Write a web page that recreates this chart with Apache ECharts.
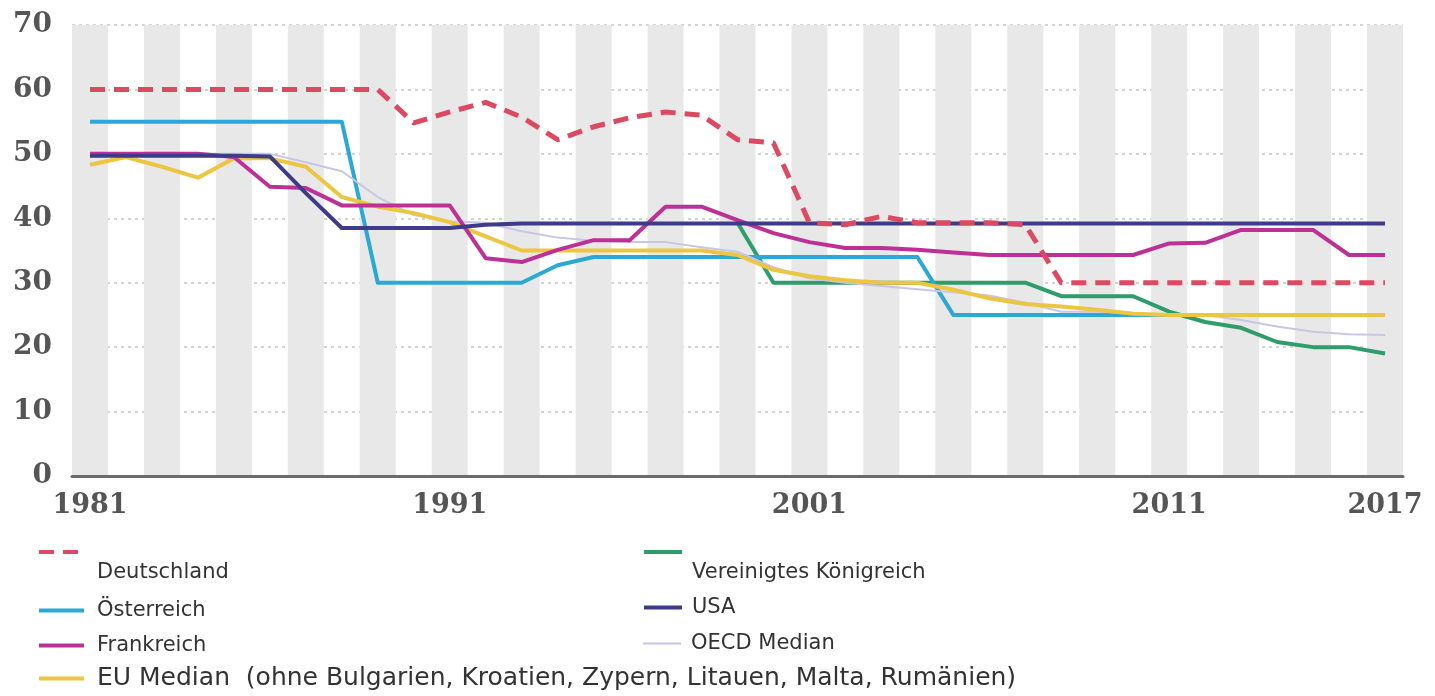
<!DOCTYPE html>
<html>
<head>
<meta charset="utf-8">
<script src="https://cdn.jsdelivr.net/npm/echarts@6/dist/echarts.min.js"></script>
<style>
html, body { margin: 0; padding: 0; background: #fff; }
#main { width: 1435px; height: 696px; }
</style>
</head>
<body>
<div id="main"></div>
<script>
// years on the x axis
var years = ['1981','1982','1983','1984','1985','1986','1987','1988','1989','1990',
	'1991','1992','1993','1994','1995','1996','1997','1998','1999','2000',
	'2001','2002','2003','2004','2005','2006','2007','2008','2009','2010',
	'2011','2012','2013','2014','2015','2016','2017'];
var shownYears = ['1981', '1991', '2001', '2011', '2017'];

// rates in %, one value per year
var deutschland = [60,60,60,60,60,60,60,60,60,54.8,
	56.5,58,55.7,52.2,54.2,55.6,56.5,56,52.2,51.7,
	39.3,39,40.3,39.3,39.3,39.3,39,30,30,30,
	30,30,30,30,30,30,30];
var oesterreich = [55,55,55,55,55,55,55,55,30,30,
	30,30,30,32.7,34,34,34,34,34,34,
	34,34,34,34,25,25,25,25,25,25,
	25,25,25,25,25,25,25];
var frankreich = [50,50,50,50,49.5,44.9,44.7,42,42,42,
	42,33.8,33.2,35.1,36.6,36.6,41.8,41.8,39.7,37.7,
	36.3,35.4,35.4,35.1,34.7,34.3,34.3,34.3,34.3,34.3,
	36.1,36.2,38.2,38.2,38.2,34.3,34.3];
var euMedian = [48.3,49.5,48,46.3,49.3,49.3,48,43.3,41.8,40.8,
	39.4,37.2,35,35,35,35,35,35,34.3,32,
	31,30.4,30,30,28.9,27.6,26.7,26.3,25.8,25.2,
	25,25,25,25,25,25,25];
var vk = [null,null,null,null,null,null,null,null,null,null,
	null,null,null,null,null,null,null,null,39.3,30,
	30,30,30,30,30,30,30,27.9,27.9,27.9,
	25.5,23.9,23,20.8,20,20,19];
var usa = [49.7,49.7,49.7,49.7,49.7,49.6,43.9,38.5,38.5,38.5,
	38.5,39,39.2,39.2,39.2,39.2,39.2,39.2,39.2,39.2,
	39.2,39.2,39.2,39.2,39.2,39.2,39.2,39.2,39.2,39.2,
	39.2,39.2,39.2,39.2,39.2,39.2,39.2];
var oecdMedian = [49.5,50,50,50,50,50,48.7,47.3,43.3,40.5,
	39.5,39.3,38,37,36.5,36.3,36.3,35.5,34.8,32.4,
	30.7,30,29.5,29,28.5,28,26.9,25.5,25.5,25.3,
	25,25,24.2,23.2,22.4,22,21.9];

var colors = {
	de: '#dc4a61',
	at: '#2ba8d4',
	fr: '#bd3095',
	eu: '#ecc640',
	uk: '#2f9c6b',
	us: '#3d3b8a',
	oecd: '#c9c5e6'
};

var euName = 'EU Median  (ohne Bulgarien, Kroatien, Zypern, Litauen, Malta, Rumänien)';
var labelFont = 'DejaVu Serif';
var legendFont = 'DejaVu Sans';

// one line series
function lineSeries(name, data, color, width, dash) {
	return {
		name: name,
		type: 'line',
		data: data,
		symbol: 'none',
		lineStyle: { color: color, width: width, type: dash || 'solid', join: 'round' },
		itemStyle: { color: color },
		emphasis: { disabled: true },
		z: 3
	};
}

// one legend block per entry, so it can be placed freely
// twoRows: text sits one row below its line symbol
function legendItem(name, left, top, iconW, lineW, padLeft, size, twoRows) {
	return {
		data: [name],
		left: left, top: top,
		padding: 0,
		itemWidth: iconW, itemHeight: 14,
		selectedMode: false,
		formatter: twoRows ? '\n{name}' : '{name}',
		itemStyle: { opacity: 0 },
		lineStyle: { width: lineW },
		textStyle: {
			fontFamily: legendFont,
			fontSize: size,
			lineHeight: twoRows ? 42 : null,
			color: '#333',
			padding: [0, 0, 0, padLeft]
		}
	};
}

var chart = echarts.init(document.getElementById('main'));
chart.setOption({
	animation: false,
	backgroundColor: '#ffffff',
	grid: { left: 72, right: 32, top: 25, bottom: 220 },
	legend: [
		legendItem('Deutschland', 37, 510, 45, 4, 8, 21, true),
		legendItem('Österreich', 37, 600, 45, 4, 8, 21),
		legendItem('Frankreich', 37, 635, 45, 4, 8, 21),
		legendItem(euName, 37, 666, 45, 4, 8, 25),
		legendItem('Vereinigtes Königreich', 642, 510, 38, 4, 5, 21, true),
		legendItem('USA', 642, 597, 38, 4, 5, 21),
		legendItem('OECD Median', 642, 633, 38, 2, 5, 21)
	],
	xAxis: {
		type: 'category',
		data: years,
		boundaryGap: true,
		axisLine: { lineStyle: { color: '#6b6b6b', width: 3 } },
		axisTick: { show: false },
		axisLabel: {
			interval: function (idx, val) { return shownYears.indexOf(val) >= 0; },
			margin: 16,
			fontFamily: labelFont,
			fontWeight: 'bold',
			fontSize: 27,
			color: '#555'
		},
		splitLine: { show: false },
		splitArea: {
			show: true,
			interval: 0,
			areaStyle: { color: ['#e8e8e8', 'rgba(255,255,255,0)'] }
		}
	},
	yAxis: {
		type: 'value',
		min: 0, max: 70, interval: 10,
		axisLine: { show: false },
		axisTick: { show: false },
		axisLabel: {
			margin: 20,
			fontFamily: labelFont,
			fontWeight: 'bold',
			fontSize: 28,
			color: '#555'
		},
		splitLine: { lineStyle: { color: '#d3d3d3', width: 2, type: [3, 4] } }
	},
	series: [
		lineSeries('Vereinigtes Königreich', vk, colors.uk, 4),
		lineSeries('Österreich', oesterreich, colors.at, 4),
		lineSeries('OECD Median', oecdMedian, colors.oecd, 2),
		lineSeries(euName, euMedian, colors.eu, 4),
		lineSeries('Frankreich', frankreich, colors.fr, 4),
		lineSeries('USA', usa, colors.us, 4),
		lineSeries('Deutschland', deutschland, colors.de, 5, [15, 9])
	]
});
</script>
</body>
</html>
